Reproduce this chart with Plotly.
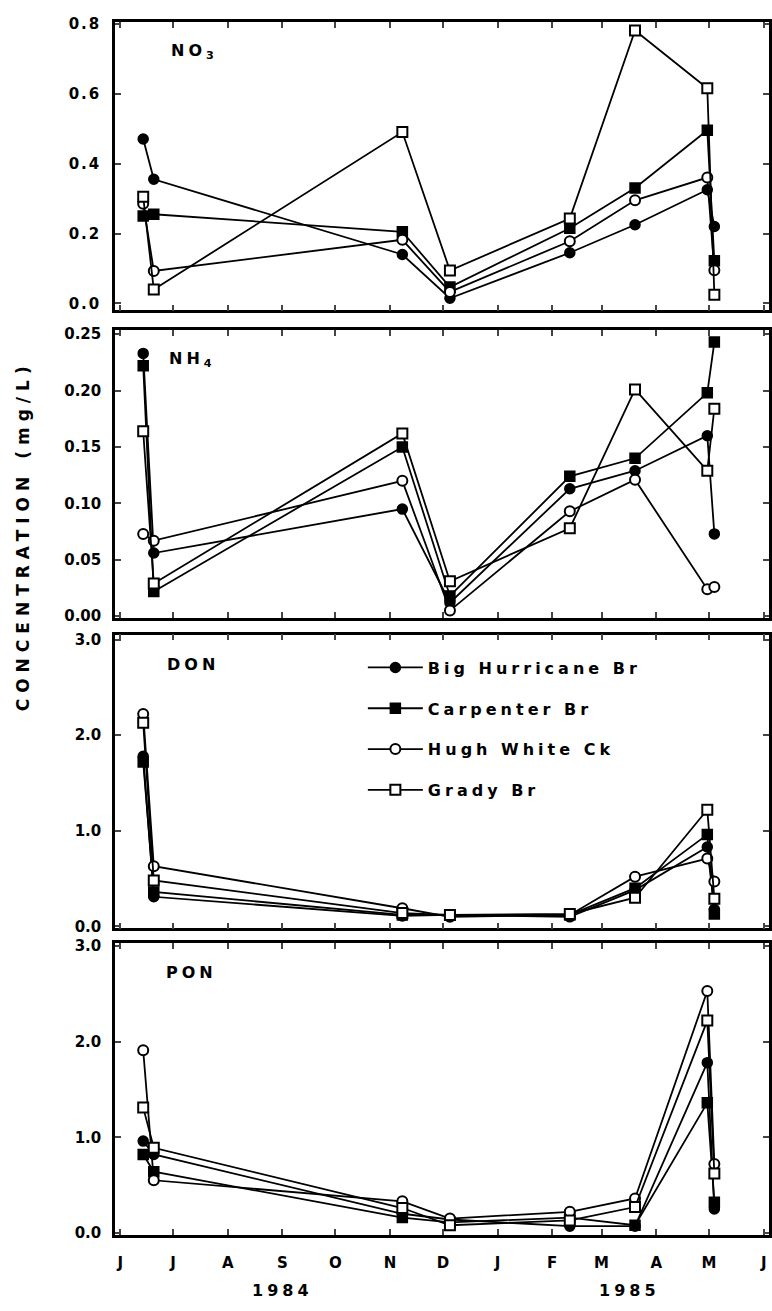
import plotly.graph_objects as go
from plotly.subplots import make_subplots

# ---------------- data ----------------
dates = ["1984-06-14", "1984-06-20", "1984-11-08", "1984-12-05",
         "1985-02-11", "1985-03-20", "1985-04-30", "1985-05-04"]
sites = ["Big Hurricane Br", "Carpenter Br", "Hugh White Ck", "Grady Br"]

no3_big_hurricane = [0.47, 0.355, 0.14, 0.015, 0.145, 0.225, 0.325, 0.22]
no3_carpenter     = [0.25, 0.255, 0.205, 0.047, 0.215, 0.33, 0.495, 0.122]
no3_hugh_white    = [0.285, 0.093, 0.182, 0.033, 0.178, 0.295, 0.36, 0.095]
no3_grady         = [0.305, 0.04, 0.49, 0.094, 0.243, 0.78, 0.615, 0.025]

nh4_big_hurricane = [0.233, 0.056, 0.095, 0.012, 0.113, 0.129, 0.160, 0.073]
nh4_carpenter     = [0.222, 0.022, 0.150, 0.018, 0.124, 0.140, 0.198, 0.243]
nh4_hugh_white    = [0.073, 0.067, 0.120, 0.005, 0.093, 0.121, 0.024, 0.026]
nh4_grady         = [0.164, 0.029, 0.162, 0.031, 0.078, 0.201, 0.129, 0.184]

don_big_hurricane = [1.78, 0.31, 0.11, 0.12, 0.10, 0.38, 0.83, 0.18]
don_carpenter     = [1.72, 0.36, 0.12, 0.12, 0.12, 0.40, 0.96, 0.13]
don_hugh_white    = [2.22, 0.63, 0.19, 0.10, 0.12, 0.52, 0.71, 0.47]
don_grady         = [2.13, 0.48, 0.14, 0.12, 0.13, 0.30, 1.22, 0.29]

pon_big_hurricane = [0.96, 0.82, 0.20, 0.14, 0.07, 0.07, 1.78, 0.25]
pon_carpenter     = [0.82, 0.64, 0.16, 0.11, 0.16, 0.08, 1.36, 0.32]
pon_hugh_white    = [1.91, 0.55, 0.33, 0.15, 0.22, 0.36, 2.53, 0.72]
pon_grady         = [1.31, 0.89, 0.26, 0.08, 0.13, 0.27, 2.22, 0.62]

month_ticks = ["1984-06-01", "1984-07-01", "1984-08-01", "1984-09-01", "1984-10-01",
               "1984-11-01", "1984-12-01", "1985-01-01", "1985-02-01", "1985-03-01",
               "1985-04-01", "1985-05-01", "1985-06-01"]
month_labels = ["J", "J", "A", "S", "O", "N", "D", "J", "F", "M", "A", "M", "J"]

panels = [
    ("NO<sub>3</sub>", [no3_big_hurricane, no3_carpenter, no3_hugh_white, no3_grady],
     [0.0, 0.2, 0.4, 0.6, 0.8], ["0.0", "0.2", "0.4", "0.6", "0.8"]),
    ("NH<sub>4</sub>", [nh4_big_hurricane, nh4_carpenter, nh4_hugh_white, nh4_grady],
     [0.0, 0.05, 0.10, 0.15, 0.20, 0.25], ["0.00", "0.05", "0.10", "0.15", "0.20", "0.25"]),
    ("DON", [don_big_hurricane, don_carpenter, don_hugh_white, don_grady],
     [0.0, 1.0, 2.0, 3.0], ["0.0", "1.0", "2.0", "3.0"]),
    ("PON", [pon_big_hurricane, pon_carpenter, pon_hugh_white, pon_grady],
     [0.0, 1.0, 2.0, 3.0], ["0.0", "1.0", "2.0", "3.0"]),
]

# ---------------- style ----------------
W, H = 772, 1311
ML, MR, MT, MB = 115, 0, 0, 0
PW = W - ML - MR
FONT = "DejaVu Sans"

def px_x(px):
    return (px - ML) / PW

def px_y(py):
    return 1 - py / H

panel_px = [(15, 307), (327, 618), (635, 932), (947, 1242)]
y_ranges = [[-0.02, 0.805], [-0.0015, 0.2535], [-0.02, 3.05], [-0.02, 3.03]]
label_px = [(175, 45), (173, 357), (171, 665), (170, 977)]

markers = [
    dict(symbol="circle", color="black", size=10, line=dict(color="black", width=1.5)),
    dict(symbol="square", color="black", size=10, line=dict(color="black", width=1.5)),
    dict(symbol="circle", color="white", size=10, line=dict(color="black", width=2)),
    dict(symbol="square", color="white", size=10, line=dict(color="black", width=2)),
]

fig = make_subplots(rows=4, cols=1, shared_xaxes=False)

for r, (label, series, tv, tt) in enumerate(panels, start=1):
    for i, vals in enumerate(series):
        fig.add_trace(go.Scatter(
            x=dates, y=vals, mode="lines+markers", name=sites[i],
            line=dict(color="black", width=1.8),
            marker=markers[i],
            legendgroup=sites[i], showlegend=(r == 3),
        ), row=r, col=1)
    top, bot = panel_px[r - 1]
    fig.update_yaxes(
        row=r, col=1, domain=[px_y(bot), px_y(top)], range=y_ranges[r - 1],
        tickvals=tv, ticktext=tt, ticks="inside", ticklen=6, tickwidth=2,
        showline=True, linewidth=2.5, linecolor="black", mirror="allticks",
        showgrid=False, zeroline=False, ticklabelstandoff=8,
        tickfont=dict(family=FONT, size=15, color="black", weight="bold"),
    )
    fig.update_xaxes(
        row=r, col=1, type="date", range=["1984-05-29", "1985-06-04"],
        tickvals=month_ticks, ticktext=month_labels, ticks="inside", ticklen=6, tickwidth=2,
        showline=True, linewidth=2.5, linecolor="black", mirror="allticks",
        showgrid=False, zeroline=False, showticklabels=(r == 4), ticklabelstandoff=12,
        tickfont=dict(family=FONT, size=15, color="black", weight="bold"),
    )
    lx, ly = label_px[r - 1]
    fig.add_annotation(
        x=px_x(lx), y=px_y(ly), xref="paper", yref="paper", text=label,
        showarrow=False, xanchor="left", yanchor="middle",
        font=dict(family=FONT, size=16, color="black", weight="bold"),
    )

# year labels
fig.add_annotation(x="1984-09-01", y=px_y(1298), xref="x4", yref="paper", text="1984",
                   showarrow=False, xanchor="center", yanchor="middle",
                   font=dict(family=FONT, size=16, color="black", weight="bold"))
fig.add_annotation(x="1985-03-17", y=px_y(1298), xref="x4", yref="paper", text="1985",
                   showarrow=False, xanchor="center", yanchor="middle",
                   font=dict(family=FONT, size=16, color="black", weight="bold"))

# y axis title
fig.add_annotation(x=px_x(22), y=px_y(535), xref="paper", yref="paper",
                   text="CONCENTRATION (mg/L)", textangle=-90, showarrow=False,
                   xanchor="center", yanchor="middle",
                   font=dict(family=FONT, size=17, color="black", weight="bold"))

fig.update_layout(
    width=W, height=H, margin=dict(l=ML, r=MR, t=MT, b=MB),
    paper_bgcolor="white", plot_bgcolor="white",
    showlegend=True,
    legend=dict(x=px_x(364), y=px_y(651), xanchor="left", yanchor="top",
                bgcolor="rgba(0,0,0,0)", tracegroupgap=17, itemwidth=55,
                font=dict(family=FONT, size=16, color="black", weight="bold")),
)

# widen the letter spacing of the texts like the original typewriter-style lettering
post_js = """
var gd = document.getElementById('{plot_id}');
function spaceText(){
  gd.querySelectorAll('.legendtext').forEach(function(t){ t.style.letterSpacing = '4px'; });
  gd.querySelectorAll('.legend [clip-path]').forEach(function(e){ e.removeAttribute('clip-path'); });
  gd.querySelectorAll('.ytick text').forEach(function(t){ t.style.letterSpacing = '2px'; });
  gd.querySelectorAll('.annotation-text').forEach(function(t){
    var s = t.textContent || '';
    if (s.indexOf('CONCENTRATION') === 0) { t.style.letterSpacing = '6px'; }
    else if (s.indexOf('198') === 0) { t.style.letterSpacing = '4px'; }
    else { t.style.letterSpacing = '4px'; }
  });
}
spaceText();
gd.on('plotly_afterplot', spaceText);
"""

fig.write_html("out.html", post_script=post_js)
